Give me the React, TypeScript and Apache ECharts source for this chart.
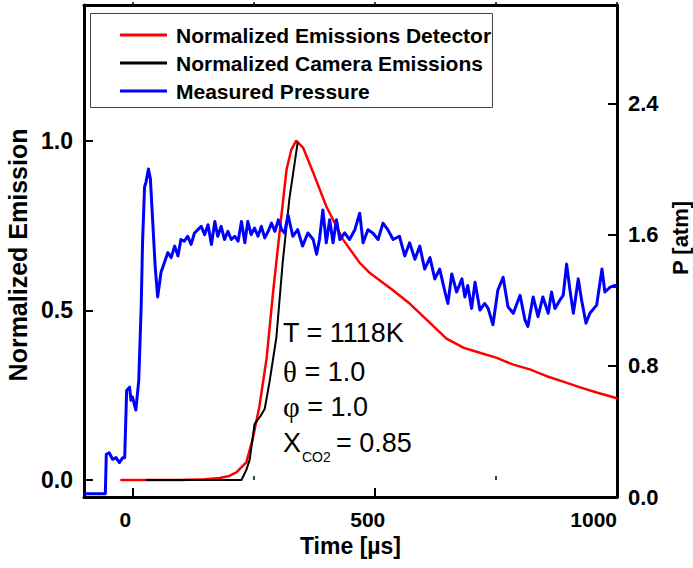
import React, { useEffect, useRef } from "react";
import * as echarts from "echarts";

// ---- data ----
const detectorTime = [-25, 0, 50, 100, 150, 180, 200, 215, 235, 248, 262, 277, 290, 304, 318, 328, 338, 352, 373, 400, 434, 469, 490, 537, 572, 607, 648, 683, 717, 752, 786, 820, 855, 889, 924, 958, 1000];
const detectorEmission = [0.0, 0.0, 0.0, 0.0, 0.002, 0.006, 0.012, 0.023, 0.052, 0.12, 0.217, 0.36, 0.55, 0.735, 0.915, 0.974, 1.0, 0.98, 0.906, 0.807, 0.71, 0.64, 0.61, 0.56, 0.52, 0.473, 0.417, 0.39, 0.375, 0.36, 0.34, 0.326, 0.306, 0.29, 0.273, 0.258, 0.241];

const cameraTime = [28, 100, 200, 225, 235, 242, 252, 257, 265, 273, 283, 297, 310, 324, 341];
const cameraEmission = [0.0, 0.0, 0.0, 0.0, 0.03, 0.06, 0.165, 0.175, 0.19, 0.21, 0.29, 0.42, 0.64, 0.83, 0.995];

const pressureTime = [-100, -56, -54, -48, -41, -34, -27, -20, -16, -12, -6, -3, 0, 7, 13, 18, 21, 25, 28, 33, 37, 42, 47, 52, 59, 66, 73, 80, 87, 94, 100, 107, 114, 121, 128, 135, 142, 149, 156, 163, 170, 176, 183, 190, 197, 204, 211, 218, 225, 232, 238, 245, 252, 259, 266, 273, 280, 287, 294, 301, 308, 314, 321, 331, 341, 351, 362, 373, 380, 386, 393, 400, 407, 414, 421, 428, 438, 448, 459, 469, 476, 486, 496, 507, 517, 527, 538, 551, 562, 572, 583, 593, 603, 614, 624, 634, 645, 651, 659, 669, 680, 686, 692, 700, 707, 717, 727, 734, 744, 754, 765, 775, 786, 800, 810, 816, 827, 837, 847, 858, 865, 872, 882, 889, 896, 903, 910, 920, 927, 936, 944, 958, 969, 975, 986, 996, 1000];
const pressureAtm = [0.02, 0.02, 0.26, 0.27, 0.23, 0.24, 0.21, 0.24, 0.24, 0.65, 0.67, 0.59, 0.61, 0.53, 0.71, 1.16, 1.57, 1.89, 1.92, 2.0, 1.94, 1.67, 1.4, 1.22, 1.37, 1.43, 1.49, 1.46, 1.53, 1.47, 1.57, 1.56, 1.59, 1.54, 1.61, 1.63, 1.65, 1.6, 1.66, 1.54, 1.68, 1.59, 1.65, 1.57, 1.62, 1.57, 1.59, 1.56, 1.68, 1.55, 1.68, 1.6, 1.64, 1.59, 1.65, 1.58, 1.62, 1.67, 1.62, 1.69, 1.63, 1.61, 1.72, 1.59, 1.63, 1.53, 1.61, 1.57, 1.48, 1.57, 1.75, 1.55, 1.69, 1.55, 1.69, 1.57, 1.61, 1.57, 1.63, 1.73, 1.55, 1.63, 1.61, 1.57, 1.67, 1.63, 1.57, 1.59, 1.47, 1.55, 1.45, 1.53, 1.39, 1.46, 1.33, 1.39, 1.25, 1.18, 1.36, 1.25, 1.33, 1.22, 1.29, 1.15, 1.31, 1.14, 1.18, 1.15, 1.05, 1.26, 1.34, 1.16, 1.12, 1.23, 1.08, 1.04, 1.22, 1.1, 1.22, 1.12, 1.25, 1.15, 1.2, 1.23, 1.42, 1.26, 1.12, 1.33, 1.2, 1.06, 1.12, 1.17, 1.39, 1.25, 1.28, 1.29, 1.28];

const timeTicks = [0, 500, 1000];
const timeMinorTicks = [250, 750];
const timeTopTicks = [0, 250, 500, 750, 1000];
const emissionTicks = [0, 0.5, 1.0];
const pressureTicks = [0, 0.8, 1.6, 2.4];

const seriesNames = ["Normalized Emissions Detector", "Normalized Camera Emissions", "Measured Pressure"];
const annotationLines = ["T = 1118K", "{g|θ} = 1.0", "{g|φ} = 1.0"];

const zip = (a: number[], b: number[]) => a.map((v, i) => [v, b[i]]);

const FONT = 'Arial, "Liberation Sans", sans-serif';

export default function App() {
  const ref = useRef<HTMLDivElement>(null);

  useEffect(() => {
    if (!ref.current) return;
    const chart = echarts.init(ref.current, undefined, { renderer: "svg" });

    const boldLabel = { fontFamily: FONT, fontWeight: "bold" as const, color: "#000" };

    chart.setOption({
      animation: false,
      backgroundColor: "#fff",
      grid: { left: 84, right: 76, top: 5, bottom: 71, containLabel: false, outerBoundsMode: "none" },
      legend: {
        show: true,
        selectedMode: false,
        orient: "vertical",
        left: 120,
        top: 24,
        padding: 0,
        icon: "rect",
        itemWidth: 47,
        itemHeight: 3,
        itemGap: 6,
        textStyle: { ...boldLabel, fontSize: 21, lineHeight: 22, padding: [0, 0, 0, 4] },
        data: seriesNames,
      },
      xAxis: [
        {
          type: "value",
          position: "bottom",
          min: -100,
          max: 1000,
          splitLine: { show: false },
          axisLine: { show: true, onZero: false, lineStyle: { color: "#000", width: 3 } },
          axisTick: { show: true, inside: true, length: 9, lineStyle: { color: "#000", width: 2 }, customValues: timeTicks },
          axisLabel: {
            ...boldLabel,
            fontSize: 21,
            margin: 12,
            customValues: timeTicks,
            alignMaxLabel: "right",
            formatter: (v: number) => (v === 1000 ? "{e|" + v + "}" : "{n|" + v + "}"),
            rich: {
              n: { ...boldLabel, fontSize: 21, padding: [0, 14, 0, 0] },
              e: { ...boldLabel, fontSize: 21 },
            },
          },
          name: "Time [µs]",
          nameLocation: "middle",
          nameGap: 36,
          nameTextStyle: { ...boldLabel, fontSize: 23 },
        },
        {
          type: "value",
          position: "bottom",
          offset: 0,
          min: -100,
          max: 1000,
          splitLine: { show: false },
          axisLine: { show: false },
          axisTick: { show: true, inside: true, length: 4, lineStyle: { color: "#000", width: 1.5 }, customValues: timeMinorTicks },
          axisLabel: { show: false },
        },
        {
          type: "value",
          position: "top",
          min: -100,
          max: 1000,
          splitLine: { show: false },
          axisLine: { show: true, onZero: false, lineStyle: { color: "#000", width: 3 } },
          axisTick: { show: true, inside: false, length: 3, lineStyle: { color: "#000", width: 1.5 }, customValues: timeTopTicks },
          axisLabel: { show: false },
        },
      ],
      yAxis: [
        {
          type: "value",
          position: "left",
          min: -0.05,
          max: 1.4,
          splitLine: { show: false },
          axisLine: { show: true, onZero: false, lineStyle: { color: "#000", width: 3 } },
          axisTick: { show: true, inside: true, length: 9, lineStyle: { color: "#000", width: 2 }, customValues: emissionTicks },
          axisLabel: {
            ...boldLabel,
            fontSize: 23,
            margin: 11,
            customValues: emissionTicks,
            formatter: (v: number) => v.toFixed(1),
          },
          name: "Normalized Emission",
          nameLocation: "middle",
          nameGap: 51,
          nameTextStyle: { ...boldLabel, fontSize: 25, padding: [0, 8, 0, 0] },
        },
        {
          type: "value",
          position: "right",
          min: 0,
          max: 3.0,
          splitLine: { show: false },
          axisLine: { show: true, onZero: false, lineStyle: { color: "#000", width: 3 } },
          axisTick: { show: true, inside: true, length: 9, lineStyle: { color: "#000", width: 2 }, customValues: pressureTicks },
          axisLabel: {
            ...boldLabel,
            fontSize: 22,
            margin: 11,
            customValues: pressureTicks,
            formatter: (v: number) => v.toFixed(1),
          },
          name: "P [atm]",
          nameLocation: "middle",
          nameGap: 51,
          nameTextStyle: { ...boldLabel, fontSize: 22, padding: [0, 0, 0, 26] },
        },
      ],
      series: [
        {
          name: seriesNames[0],
          type: "line",
          xAxisIndex: 0,
          yAxisIndex: 0,
          symbol: "none",
          showSymbol: false,
          data: zip(detectorTime, detectorEmission),
          lineStyle: { color: "#ff0000", width: 2.5 },
          itemStyle: { color: "#ff0000" },
        },
        {
          name: seriesNames[1],
          type: "line",
          xAxisIndex: 0,
          yAxisIndex: 0,
          symbol: "none",
          showSymbol: false,
          data: zip(cameraTime, cameraEmission),
          lineStyle: { color: "#000000", width: 2 },
          itemStyle: { color: "#000000" },
        },
        {
          name: seriesNames[2],
          type: "line",
          xAxisIndex: 0,
          yAxisIndex: 1,
          symbol: "none",
          showSymbol: false,
          data: zip(pressureTime, pressureAtm),
          lineStyle: { color: "#0000ff", width: 3, join: "round" },
          itemStyle: { color: "#0000ff" },
        },
      ],
      graphic: [
        {
          type: "rect",
          shape: { x: 90.5, y: 13.5, width: 402, height: 94 },
          style: { fill: "none", stroke: "#444", lineWidth: 1 },
          silent: true,
          z: 10,
        },
        ...annotationLines.map((t, i) => ({
          type: "text",
          x: 283,
          y: [333, 372, 407][i],
          style: {
            text: t,
            fontFamily: FONT,
            fontSize: 27,
            fill: "#000",
            verticalAlign: "middle",
            align: "left",
            rich: { g: { fontFamily: '"Liberation Serif", "Times New Roman", serif', fontSize: 29, fill: "#000" } },
          },
          z: 10,
        })),
        {
          type: "text",
          x: 283,
          y: 443,
          style: { text: "X", fontFamily: FONT, fontSize: 27, fill: "#000", verticalAlign: "middle", align: "left" },
          z: 10,
        },
        {
          type: "text",
          x: 302,
          y: 457,
          style: { text: "CO2", fontFamily: FONT, fontSize: 14, fill: "#000", verticalAlign: "middle", align: "left" },
          z: 10,
        },
        {
          type: "text",
          x: 336,
          y: 443,
          style: { text: "= 0.85", fontFamily: FONT, fontSize: 27, fill: "#000", verticalAlign: "middle", align: "left" },
          z: 10,
        },
      ],
    });

    return () => chart.dispose();
  }, []);

  return <div ref={ref} style={{ width: 693, height: 568, position: "absolute", left: 0, top: 0 }} />;
}
